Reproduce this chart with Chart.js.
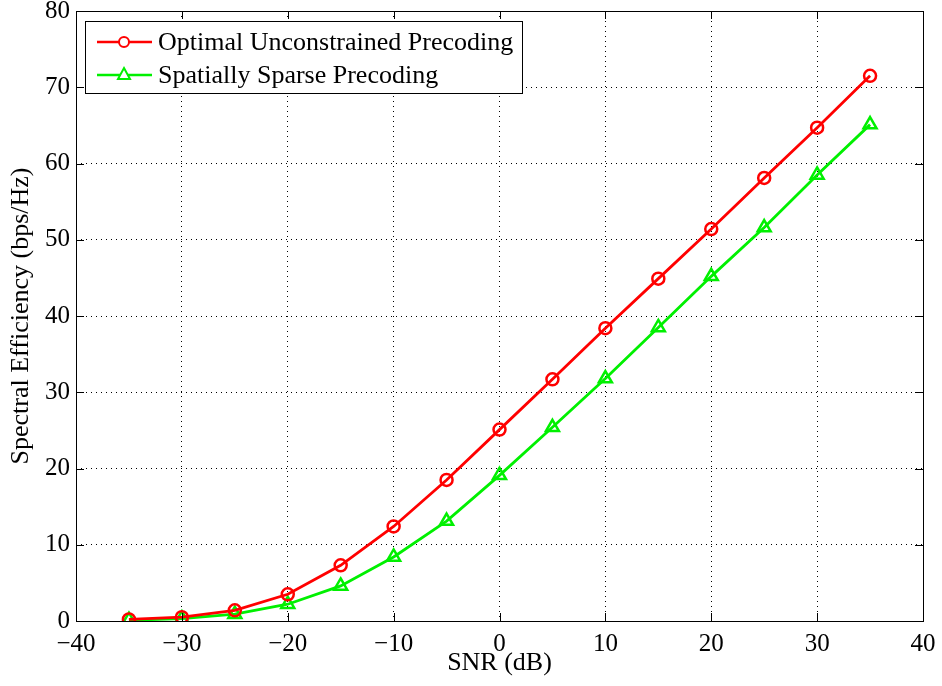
<!DOCTYPE html>
<html>
<head>
<meta charset="utf-8">
<script src="https://cdn.jsdelivr.net/npm/chart.js@4.4.1/dist/chart.umd.min.js"></script>
<style>
  html, body { margin: 0; padding: 0; background: #fff; }
  #wrap { width: 942px; height: 686px; position: relative; }
</style>
</head>
<body>
<div id="wrap"><canvas id="chart" width="942" height="686"></canvas></div>
<script>
// SNR points (dB)
const snrDb = [-35, -30, -25, -20, -15, -10, -5, 0, 5, 10, 15, 20, 25, 30, 35];
// spectral efficiency, bps/Hz
const optimalUnconstrained = [0.2, 0.5, 1.4, 3.5, 7.3, 12.4, 18.5, 25.1, 31.7, 38.4, 44.9, 51.4, 58.1, 64.7, 71.5];
const spatiallySparse = [0.1, 0.3, 0.9, 2.2, 4.6, 8.4, 13.1, 19.1, 25.4, 31.8, 38.5, 45.2, 51.6, 58.5, 65.1];
const seriesNames = ['Optimal Unconstrained Precoding', 'Spatially Sparse Precoding'];
const xTicks = [-40, -30, -20, -10, 0, 10, 20, 30, 40];
const yTicks = [0, 10, 20, 30, 40, 50, 60, 70, 80];

const FONT = '"Liberation Serif", "Times New Roman", serif';

function toPoints(values) {
    return snrDb.map((x, i) => ({ x: x, y: values[i] }));
}

function minusSign(v) {
    return String(v).replace('-', '\u2212');
}

// MATLAB style: box around the axes and small ticks pointing inward
const boxPlugin = {
    id: 'box',
    afterDraw(chart) {
        const { ctx, chartArea: a, scales } = chart;
        ctx.save();
        ctx.strokeStyle = '#000';
        ctx.lineWidth = 1;
        ctx.strokeRect(a.left + 0.5, a.top + 0.5, a.right - a.left, a.bottom - a.top);
        const len = 8;
        ctx.beginPath();
        xTicks.forEach(t => {
            const px = Math.round(scales.x.getPixelForValue(t)) + 0.5;
            ctx.moveTo(px, a.bottom); ctx.lineTo(px, a.bottom - len);
            ctx.moveTo(px, a.top); ctx.lineTo(px, a.top + len);
        });
        yTicks.forEach(t => {
            const py = Math.round(scales.y.getPixelForValue(t)) + 0.5;
            ctx.moveTo(a.left, py); ctx.lineTo(a.left + len, py);
            ctx.moveTo(a.right, py); ctx.lineTo(a.right - len, py);
        });
        ctx.stroke();
        ctx.restore();
    }
};

// legend box in the upper left corner of the plot
const legendPlugin = {
    id: 'insideLegend',
    afterDraw(chart) {
        const { ctx, chartArea: a } = chart;
        const x0 = a.left + 9, y0 = a.top + 10, w = 437, h = 72;
        ctx.save();
        ctx.fillStyle = '#fff';
        ctx.fillRect(x0, y0, w, h);
        ctx.strokeStyle = '#000';
        ctx.lineWidth = 1;
        ctx.strokeRect(x0 + 0.5, y0 + 0.5, w, h);
        ctx.font = '26px ' + FONT;
        ctx.textBaseline = 'middle';
        chart.data.datasets.forEach((ds, i) => {
            const cy = y0 + 21 + i * 33;
            ctx.strokeStyle = ds.borderColor;
            ctx.lineWidth = 2.5;
            ctx.beginPath();
            ctx.moveTo(x0 + 12, cy); ctx.lineTo(x0 + 67, cy);
            ctx.stroke();
            ctx.lineWidth = 2;
            ctx.beginPath();
            if (ds.pointStyle === 'circle') {
                ctx.arc(x0 + 39, cy, 5, 0, Math.PI * 2);
            } else {
                ctx.moveTo(x0 + 39, cy - 7); ctx.lineTo(x0 + 45, cy + 4); ctx.lineTo(x0 + 33, cy + 4); ctx.closePath();
            }
            ctx.fillStyle = '#fff';
            ctx.fill();
            ctx.stroke();
            ctx.fillStyle = '#000';
            ctx.fillText(seriesNames[i], x0 + 73, cy + 1);
        });
        ctx.restore();
    }
};

new Chart(document.getElementById('chart'), {
    type: 'line',
    data: {
        datasets: [
            {
                label: seriesNames[0],
                data: toPoints(optimalUnconstrained),
                borderColor: '#ff0000',
                backgroundColor: 'rgba(0,0,0,0)',
                borderWidth: 2.8,
                pointStyle: 'circle',
                pointRadius: 6,
                pointBorderWidth: 2.5,
                pointBackgroundColor: 'rgba(0,0,0,0)',
                tension: 0
            },
            {
                label: seriesNames[1],
                data: toPoints(spatiallySparse),
                borderColor: '#00f000',
                backgroundColor: 'rgba(0,0,0,0)',
                borderWidth: 2.8,
                pointStyle: 'triangle',
                pointRadius: 7.5,
                pointBorderWidth: 2.5,
                pointBackgroundColor: 'rgba(0,0,0,0)',
                tension: 0
            }
        ]
    },
    options: {
        responsive: false,
        animation: false,
        layout: { padding: { top: 11, right: 19, left: 6, bottom: 7 } },
        plugins: {
            legend: { display: false },
            tooltip: { enabled: false }
        },
        scales: {
            x: {
                type: 'linear',
                min: -40,
                max: 40,
                afterBuildTicks: scale => { scale.ticks = xTicks.map(v => ({ value: v })); },
                afterFit: scale => {
                    scale.height = 58;
                    scale.paddingLeft = 0;
                    scale.paddingRight = 0;
                },
                ticks: {
                    color: '#000',
                    font: { family: FONT, size: 25 },
                    padding: 8,
                    maxRotation: 0,
                    callback: v => minusSign(v)
                },
                grid: {
                    color: '#000',
                    lineWidth: 1,
                    drawTicks: false
                },
                border: { display: false, dash: [1, 4] },
                title: {
                    display: true,
                    text: 'SNR (dB)',
                    color: '#000',
                    font: { family: FONT, size: 26 },
                    padding: { top: 0, bottom: 0 }
                }
            },
            y: {
                type: 'linear',
                min: 0,
                max: 80,
                afterBuildTicks: scale => { scale.ticks = yTicks.map(v => ({ value: v })); },
                afterFit: scale => {
                    scale.width = 70;
                    scale.paddingTop = 0;
                    scale.paddingBottom = 0;
                },
                ticks: {
                    color: '#000',
                    font: { family: FONT, size: 25 },
                    padding: 6
                },
                grid: {
                    color: '#000',
                    lineWidth: 1,
                    drawTicks: false
                },
                border: { display: false, dash: [1, 4] },
                title: {
                    display: true,
                    text: 'Spectral Efficiency (bps/Hz)',
                    color: '#000',
                    font: { family: FONT, size: 26 },
                    padding: { bottom: 0, top: 0 }
                }
            }
        }
    },
    plugins: [boxPlugin, legendPlugin]
});
</script>
</body>
</html>
